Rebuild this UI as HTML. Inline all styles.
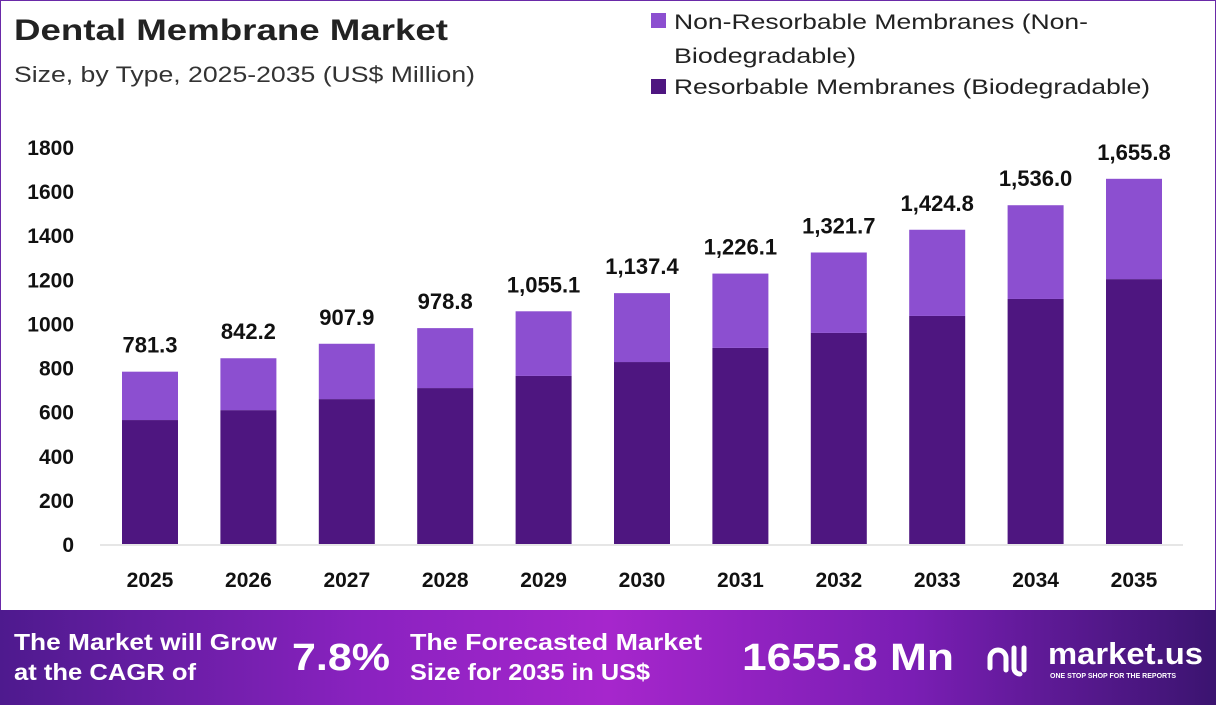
<!DOCTYPE html>
<html><head><meta charset="utf-8"><style>
body{margin:0;width:1216px;height:705px;overflow:hidden;background:#fff;font-family:"Liberation Sans",sans-serif}
svg{display:block}
</style></head><body>
<svg id="c" width="1216" height="705" xmlns="http://www.w3.org/2000/svg">
<defs>
<linearGradient id="bg" x1="0" x2="1" y1="0" y2="0">
<stop offset="0" stop-color="#4e1a8e"/><stop offset="0.3" stop-color="#8a22c0"/><stop offset="0.5" stop-color="#a626cc"/><stop offset="0.75" stop-color="#7a1eb4"/><stop offset="1" stop-color="#3b1470"/>
</linearGradient>
</defs>
<rect x="0.5" y="0.5" width="1215" height="704" fill="none" stroke="#6a2aa8"/>
<text x="14" y="40" font-size="30" font-weight="bold" fill="#222" textLength="434" lengthAdjust="spacingAndGlyphs">Dental Membrane Market</text>
<text x="14" y="82" font-size="22" fill="#333" textLength="461" lengthAdjust="spacingAndGlyphs">Size, by Type, 2025-2035 (US$ Million)</text>
<rect x="651" y="13" width="15" height="15" fill="#8c4fd0"/>
<text x="674" y="29" font-size="21" fill="#222" textLength="414" lengthAdjust="spacingAndGlyphs">Non-Resorbable Membranes (Non-</text>
<text x="674" y="63" font-size="21" fill="#222" textLength="182" lengthAdjust="spacingAndGlyphs">Biodegradable)</text>
<rect x="651" y="79" width="15" height="15" fill="#4e1680"/>
<text x="674" y="94" font-size="21" fill="#222" textLength="476" lengthAdjust="spacingAndGlyphs">Resorbable Membranes (Biodegradable)</text>
<g id="plot"></g>
<rect x="0" y="610" width="1216" height="95" fill="url(#bg)"/>
<g font-weight="bold" fill="#fff">
<text x="14" y="650" font-size="23" textLength="263" lengthAdjust="spacingAndGlyphs">The Market will Grow</text>
<text x="14" y="680" font-size="23" textLength="182" lengthAdjust="spacingAndGlyphs">at the CAGR of</text>
<text x="292" y="670" font-size="38" textLength="98" lengthAdjust="spacingAndGlyphs">7.8%</text>
<text x="410" y="650" font-size="23" textLength="292" lengthAdjust="spacingAndGlyphs">The Forecasted Market</text>
<text x="410" y="680" font-size="23" textLength="240" lengthAdjust="spacingAndGlyphs">Size for 2035 in US$</text>
<text x="742" y="670" font-size="38" textLength="212" lengthAdjust="spacingAndGlyphs">1655.8 Mn</text>
<text x="1048" y="664" font-size="31" textLength="155" lengthAdjust="spacingAndGlyphs">market.us</text>
<text x="1050" y="678" font-size="7">ONE STOP SHOP FOR THE REPORTS</text>
</g>
<g fill="none" stroke="#fff" stroke-width="5" stroke-linecap="round">
<path d="M990 668 v-10 a8 8 0 0 1 16 0 v12"/><path d="M1014 648 v20 a6 6 0 0 0 6 6"/><path d="M1024 648 v22"/>
</g>
</svg>
<script>
const years=["2025","2026","2027","2028","2029","2030","2031","2032","2033","2034","2035"];
const resorbable=[562,607,657,707,762,825,889,957,1034,1111,1201];
const totals=[781.3,842.2,907.9,978.8,1055.1,1137.4,1226.1,1321.7,1424.8,1536.0,1655.8];
const totalLabels=["781.3","842.2","907.9","978.8","1,055.1","1,137.4","1,226.1","1,321.7","1,424.8","1,536.0","1,655.8"];
const yTicks=[0,200,400,600,800,1000,1200,1400,1600,1800];
const NS="http://www.w3.org/2000/svg";
const g=document.getElementById('plot');
const y0=544,y1=147,vmax=1800;
const yS=v=>y0-(v/vmax)*(y0-y1);
const xS=i=>150+i*98.4;
const bw=56;
function mk(t,a){const e=document.createElementNS(NS,t);for(const k in a)e.setAttribute(k,a[k]);g.appendChild(e);return e;}
const ax=mk('line',{x1:100,x2:1183,y1:y0+1,y2:y0+1,stroke:'#ccc'});


yTicks.forEach(v=>{const t=mk('text',{x:74,y:yS(v)+8,'font-size':21,'font-weight':'bold',fill:'#111','text-anchor':'end'});t.textContent=v;

});
years.forEach((yr,i)=>{
const x=xS(i)-bw/2;
const r1=mk('rect',{x:x,y:yS(resorbable[i]),width:bw,height:y0-yS(resorbable[i]),fill:'#4e1680'});


const r2=mk('rect',{x:x,y:yS(totals[i]),width:bw,height:yS(resorbable[i])-yS(totals[i]),fill:'#8c4fd0'});


const l=mk('text',{x:xS(i),y:yS(totals[i])-19,'font-size':22,'font-weight':'bold',fill:'#111','text-anchor':'middle'});l.textContent=totalLabels[i];


const xl=mk('text',{x:xS(i),y:587,'font-size':21,'font-weight':'bold',fill:'#111','text-anchor':'middle'});xl.textContent=yr;


});
</script>
</body></html>
